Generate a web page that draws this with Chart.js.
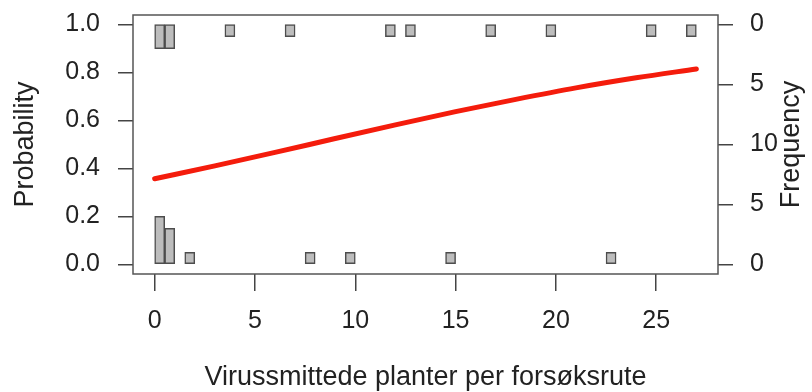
<!DOCTYPE html>
<html>
<head>
<meta charset="utf-8">
<script src="https://cdn.jsdelivr.net/npm/chart.js@4"></script>
<style>
  html, body { margin: 0; padding: 0; background: #fff; }
  #wrap { width: 812px; height: 392px; }
</style>
</head>
<body>
<div id="wrap"><canvas id="plot"></canvas></div>
<script>
// fitted probability curve
const curveX = [0, 3, 6, 9, 12, 15, 18, 21, 24, 27];
const curveP = [0.357, 0.411, 0.467, 0.525, 0.582, 0.637, 0.688, 0.736, 0.778, 0.815];

// histogram bins of width 0.5: midpoints and counts
const bottomMids = [0.25, 0.75, 1.75, 7.75, 9.75, 14.75, 22.75];
const bottomCounts = [4, 3, 1, 1, 1, 1, 1];
const topMids = [0.25, 0.75, 3.75, 6.75, 11.75, 12.75, 16.75, 19.75, 24.75, 26.75];
const topCounts = [2, 2, 1, 1, 1, 1, 1, 1, 1, 1];

const xTicks = [0, 5, 10, 15, 20, 25];
const probTicks = [0, 0.2, 0.4, 0.6, 0.8, 1.0];
const freqTicks = [0, 5, 10, 15, 20];
const freqLabels = ['0', '5', '10', '5', '0'];
const freqTop = 20; // frequency units that equal probability 1

Chart.defaults.font.family = '"Liberation Sans", Arial, sans-serif';
Chart.defaults.color = '#222';

const tickFont = { size: 25 };
const titleFont = { size: 27, lineHeight: 1 };
const axisGrid = { drawOnChartArea: false, drawTicks: true, tickLength: 15, color: '#444', lineWidth: 1.5, offset: false };

const histData = bottomMids.map((m, i) => ({ x: m, y: [0, bottomCounts[i]] }))
  .concat(topMids.map((m, i) => ({ x: m, y: [freqTop - topCounts[i], freqTop] })));

const boxPlugin = {
  id: 'box',
  afterDatasetsDraw(chart) {
    const { ctx, chartArea: a } = chart;
    ctx.save();
    ctx.strokeStyle = '#555';
    ctx.lineWidth = 1.5;
    ctx.strokeRect(a.left, a.top, a.right - a.left, a.bottom - a.top);
    // right axis title reads upward, like the left one
    const s = chart.scales.y2;
    ctx.translate(s.right - 20, (a.top + a.bottom) / 2);
    ctx.rotate(-Math.PI / 2);
    ctx.font = '27px "Liberation Sans", Arial, sans-serif';
    ctx.fillStyle = '#222';
    ctx.textAlign = 'center';
    ctx.textBaseline = 'middle';
    ctx.fillText('Frequency', 0, 0);
    ctx.restore();
  }
};

new Chart(document.getElementById('plot'), {
  type: 'line',
  data: {
    datasets: [{
      type: 'line',
      data: curveX.map((x, i) => ({ x: x, y: curveP[i] })),
      xAxisID: 'x',
      yAxisID: 'y',
      borderColor: '#f41c0c',
      borderWidth: 5,
      borderCapStyle: 'round',
      pointRadius: 0,
      cubicInterpolationMode: 'monotone',
      fill: false
    }, {
      type: 'bar',
      data: histData,
      xAxisID: 'x',
      yAxisID: 'y2',
      backgroundColor: '#bdbdbd',
      borderColor: '#4d4d4d',
      borderWidth: 1.5,
      borderSkipped: false,
      barPercentage: 1,
      categoryPercentage: 1
    }]
  },
  options: {
    responsive: true,
    maintainAspectRatio: false,
    animation: false,
    layout: { padding: { top: 15 } },
    plugins: { legend: { display: false }, tooltip: { enabled: false } },
    scales: {
      x: {
        type: 'linear',
        position: 'bottom',
        min: -1.08,
        max: 28.08,
        offset: false,
        afterBuildTicks: s => { s.ticks = xTicks.map(v => ({ value: v })); },
        afterFit: s => { s.height = 118; s.paddingLeft = 0; s.paddingRight = 0; },
        ticks: { font: tickFont, padding: 15, maxRotation: 0, autoSkip: false },
        grid: Object.assign({}, axisGrid, { tickLength: 17 }),
        border: { display: false },
        title: { display: true, text: 'Virussmittede planter per forsøksrute', font: titleFont, padding: { top: 0, bottom: 0.5 } }
      },
      y: {
        type: 'linear',
        position: 'left',
        min: -0.04,
        max: 1.04,
        afterBuildTicks: s => { s.ticks = probTicks.map(v => ({ value: v })); },
        afterFit: s => { s.width = 133; s.paddingTop = 0; s.paddingBottom = 0; },
        ticks: { font: tickFont, padding: 18, callback: v => v.toFixed(1) },
        grid: axisGrid,
        border: { display: false },
        title: { display: true, text: 'Probability', font: titleFont, padding: { top: 12.5, bottom: 0 } }
      },
      y2: {
        type: 'linear',
        position: 'right',
        min: -0.8,
        max: 20.8,
        stacked: false,
        afterBuildTicks: s => { s.ticks = freqTicks.map(v => ({ value: v })); },
        afterFit: s => { s.width = 94; s.paddingTop = 0; s.paddingBottom = 0; },
        ticks: { font: tickFont, padding: 17, callback: (v, i) => freqLabels[i] },
        grid: axisGrid,
        border: { display: false }
      }
    }
  },
  plugins: [boxPlugin]
});
</script>
</body>
</html>
